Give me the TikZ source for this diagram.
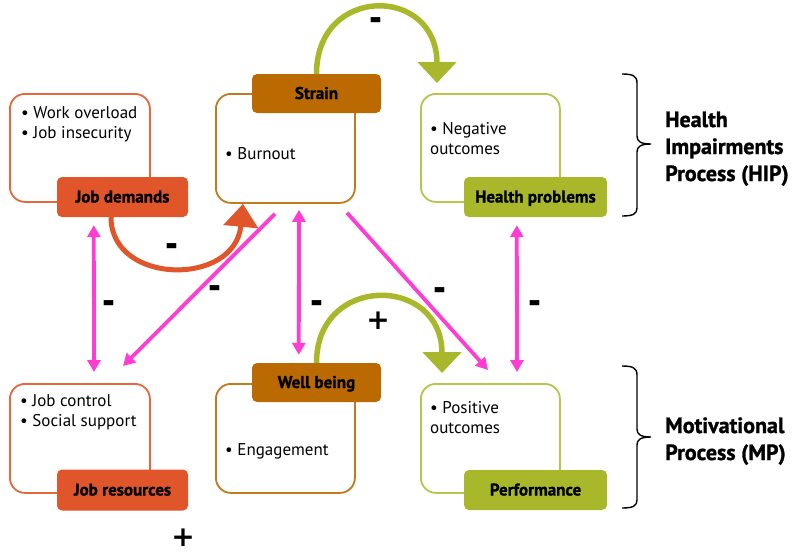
\documentclass[tikz,border=0pt]{standalone}
\usepackage{fontspec}
\setmainfont{PT Sans}[BoldFont={PT Sans Bold},BoldFeatures={FakeBold=1.2}]
\newfontfamily\signfont{DejaVu Sans}
\usetikzlibrary{arrows.meta,calc}
\definecolor{cOr}{HTML}{E0552A}
\definecolor{cOrL}{HTML}{E4683C}
\definecolor{cBr}{HTML}{BA6A00}
\definecolor{cBrL}{HTML}{C27A1C}
\definecolor{cGr}{HTML}{A9B82B}
\definecolor{cGrL}{HTML}{B5C54E}
\definecolor{cPk}{HTML}{FF3DD2}
\tikzset{
  outerbox/.style={draw=#1, line width=1.8pt, fill=white, rounded corners=15pt,
    minimum width=140pt, minimum height=108pt, anchor=north west, inner sep=0pt},
  lblbox/.style={fill=#1, rounded corners=5pt, minimum height=40pt, inner sep=0pt,
    text height=11pt, text depth=0pt, font=\fontsize{17}{18}\selectfont\bfseries},
  bodytxt/.style={anchor=base west, inner sep=0pt, font=\fontsize{17}{20}\selectfont},
  titletxt/.style={anchor=base west, inner sep=0pt, font=\fontsize{22}{24}\selectfont\bfseries},
  signlbl/.style={inner sep=1pt, font=\signfont\fontsize{24}{24}\selectfont\bfseries},
  plussign/.style={inner sep=1pt, font=\signfont\fontsize{28}{28}\selectfont\bfseries},
  pk/.style={draw=cPk, line width=3.8pt},
  pktip/.style={-{Triangle[width=13pt,length=12pt]}},
  pktips/.style={{Triangle[width=13pt,length=12pt]}-{Triangle[width=13pt,length=12pt]}},
  grarc/.style={draw=cGr, line width=5.5pt, -{Triangle[width=38pt,length=21pt]}},
  brace/.style={draw=black, line width=1.4pt},
}
\begin{document}
\begin{tikzpicture}[x=1pt,y=-1pt]
\path[use as bounding box] (0,0) rectangle (797,552);

% outer boxes
\node[outerbox=cOrL] (jdb) at (9,93) {};
\node[outerbox=cBrL, minimum width=139pt, minimum height=109pt] (stb) at (215,93) {};
\node[outerbox=cGrL, minimum width=139pt] (hpb) at (420,93) {};
\node[outerbox=cOrL, minimum height=109pt] (jrb) at (9,383) {};
\node[outerbox=cBrL, minimum width=139pt, minimum height=109pt] (wbb) at (215,383) {};
\node[outerbox=cGrL, minimum width=139pt, minimum height=109pt] (pfb) at (420,383) {};

% labels
\node[lblbox=cOr, minimum width=131pt] (jdl) at (122.5,197) {Job demands};
\node[lblbox=cBr, minimum width=129pt, minimum height=39pt] (stl) at (316.5,93.5) {Strain};
\node[lblbox=cGr, minimum width=143pt] (hpl) at (535.5,197) {Health problems};
\node[lblbox=cOr, minimum width=131pt, minimum height=41pt] (jrl) at (122.5,490) {Job resources};
\node[lblbox=cBr, minimum width=129pt, minimum height=39pt] (wbl) at (316.5,382.5) {Well being};
\node[lblbox=cGr, minimum width=143pt] (pfl) at (535.5,490) {Performance};

% body texts
\node[bodytxt] (t1) at (21,118) {• Work overload};
\node[bodytxt] (t2) at (21,138) {• Job insecurity};
\node[bodytxt] (t3) at (225,159) {• Burnout};
\node[bodytxt] (t4) at (430,134) {• Negative};
\node[bodytxt] (t5) at (430,154) {outcomes};
\node[bodytxt] (t6) at (20,406) {• Job control};
\node[bodytxt] (t7) at (20,426) {• Social support};
\node[bodytxt] (t8) at (225,455) {• Engagement};
\node[bodytxt] (t9) at (430,413) {• Positive};
\node[bodytxt] (t10) at (430,433) {outcomes};

% titles
\node[titletxt] (h1) at (665,127) {Health};
\node[titletxt] (h2) at (665,154) {Impairments};
\node[titletxt] (h3) at (665,181) {Process (HIP)};
\node[titletxt] (m1) at (665,433) {Motivational};
\node[titletxt] (m2) at (665,460) {Process (MP)};

% braces
\draw[brace] (622,74) .. controls (633,74) and (637,76) .. (637,83) -- (637,136)
  .. controls (637,141) and (640,144) .. (651,144)
  .. controls (640,144) and (637,147) .. (637,152) -- (637,208)
  .. controls (637,214) and (633,216) .. (622,216);
\draw[brace] (622,366) .. controls (633,366) and (637,368) .. (637,375) -- (637,429)
  .. controls (637,434) and (640,437) .. (651,437)
  .. controls (640,437) and (637,440) .. (637,445) -- (637,500)
  .. controls (637,506) and (633,508) .. (622,508);

% curved arrows
\coordinate (g1e) at ($(hpb.north west)+(17,-10)$);
\draw[grarc] (stl.north) .. controls +(0,-89) and +(0,-98) .. (g1e);
\coordinate (g2e) at ($(pfb.north west)+(22,-10)$);
\draw[grarc] (wbl.north) .. controls +(0,-89) and +(0,-98) .. (g2e);
\coordinate (o1s) at ($(jdl.south)+(-11.5,0)$);
\coordinate (o1e) at ($(stb.south west)+(28,0)$);
\draw[draw=cOr, line width=5pt, -{Triangle[width=34pt,length=23pt]}]
  (o1s) .. controls +(0,68) and +(-8,83) .. (o1e);

% pink arrows
\coordinate (p1s) at ($(jdl.south west)+(37,8)$);
\coordinate (p1e) at ($(jrb.north west)+(85,-11)$);
\draw[pk,pktips] (p1s) -- (p1e);
\coordinate (p2s) at ($(stb.south west)+(60,10)$);
\coordinate (p2e) at ($(jrb.north west)+(114,-17)$);
\draw[pk,pktip] (p2s) -- (p2e);
\coordinate (p3s) at ($(stb.south west)+(84,6)$);
\coordinate (p3e) at ($(wbl.north west)+(47,-8)$);
\draw[pk,pktips] (p3s) -- (p3e);
\coordinate (p4s) at ($(stb.south west)+(132,9)$);
\coordinate (p4e) at ($(pfb.north west)+(68,-13)$);
\draw[pk,pktip] (p4s) -- (p4e);
\coordinate (p5s) at ($(hpl.south west)+(53,8)$);
\coordinate (p5e) at ($(pfb.north west)+(97,-11)$);
\draw[pk,pktips] (p5s) -- (p5e);

% signs
\node[signlbl] (s1) at (376,24) {\scalebox{1.3}[1.5]{-}};
\node[signlbl] (s2) at (172,250) {\scalebox{1.3}[1.5]{-}};
\node[signlbl] (s3) at (109,307) {\scalebox{1.3}[1.5]{-}};
\node[signlbl] (s4) at (215,292) {\scalebox{1.3}[1.5]{-}};
\node[signlbl] (s5) at (317,307) {\scalebox{1.3}[1.5]{-}};
\node[signlbl] (s6) at (440,294) {\scalebox{1.3}[1.5]{-}};
\node[signlbl] (s7) at (535,307) {\scalebox{1.3}[1.5]{-}};
\node[plussign] (s8) at (378,321) {+};
\node[plussign] (s9) at (183,538) {+};
\end{tikzpicture}
\end{document}
